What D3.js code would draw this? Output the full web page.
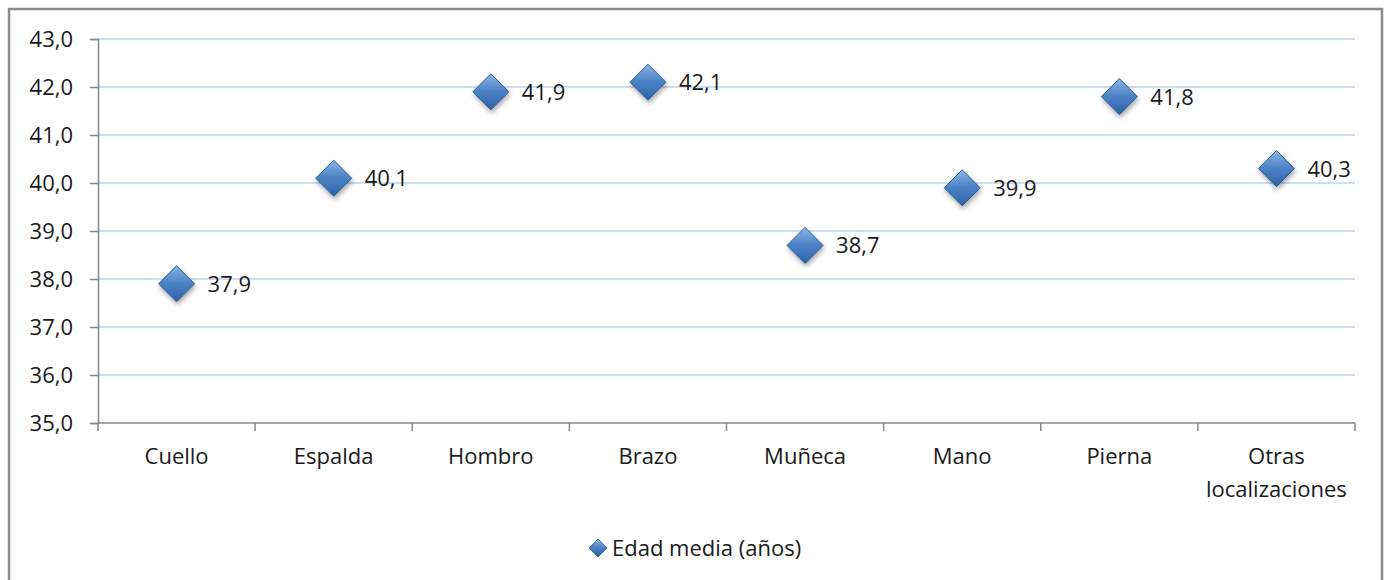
<!DOCTYPE html>
<html>
<head>
<meta charset="utf-8">
<script src="https://cdn.jsdelivr.net/npm/d3@7"></script>
<style>
  body { margin: 0; background: #fff; }
  svg { display: block; font-family: "Open Sans", sans-serif; }
</style>
</head>
<body>
<div id="chart"></div>
<script>
// data
const categories = ['Cuello', 'Espalda', 'Hombro', 'Brazo', 'Muñeca', 'Mano', 'Pierna', 'Otras localizaciones'];
const edadMedia = [37.9, 40.1, 41.9, 42.1, 38.7, 39.9, 41.8, 40.3];
const yTicks = [35, 36, 37, 38, 39, 40, 41, 42, 43];
const seriesName = 'Edad media (años)';

const width = 1386;
const height = 580;
const margin = {top: 39, bottom: 157, left: 98, right: 31};

const es = d3.formatLocale({decimal: ',', thousands: '.', grouping: [3], currency: ['', '€']});
const fmt = es.format('.1f');

const svg = d3.select('#chart')
    .append('svg')
        .attr('width', width)
        .attr('height', height);

// equal-diagonal diamond
const diamond = {
    draw(ctx, size) {
        const r = Math.sqrt(size / 2);
        ctx.moveTo(0, -r);
        ctx.lineTo(r, 0);
        ctx.lineTo(0, r);
        ctx.lineTo(-r, 0);
        ctx.closePath();
    }
};

const defs = svg.append('defs');
const grad = defs.append('linearGradient')
    .attr('id', 'gem')
    .attr('x1', 0).attr('y1', 0).attr('x2', 0).attr('y2', 1);
grad.append('stop').attr('offset', '0%').attr('stop-color', '#8db6e6');
grad.append('stop').attr('offset', '45%').attr('stop-color', '#4f85c8');
grad.append('stop').attr('offset', '100%').attr('stop-color', '#2d62a6');

const shadow = defs.append('filter').attr('id', 'shadow')
    .attr('x', '-50%').attr('y', '-50%').attr('width', '200%').attr('height', '200%');
shadow.append('feDropShadow')
    .attr('dx', 1).attr('dy', 3).attr('stdDeviation', 2.5)
    .attr('flood-color', '#000').attr('flood-opacity', 0.35);

// chart frame
svg.append('rect')
    .attr('x', 9).attr('y', 9)
    .attr('width', 1373).attr('height', 620)
    .attr('fill', 'none')
    .attr('stroke', '#8a8a8a')
    .attr('stroke-width', 2.5);

const x = d3.scaleBand()
    .domain(categories)
    .range([margin.left, width - margin.right]);

const xEdge = d3.scaleLinear()
    .domain([0, categories.length])
    .range([margin.left, width - margin.right]);

const y = d3.scaleLinear()
    .domain([35, 43])
    .range([height - margin.bottom, margin.top]);

// gridlines
svg.append('g')
    .selectAll('line')
    .data(yTicks.slice(1))
    .join('line')
        .attr('x1', margin.left)
        .attr('x2', width - margin.right)
        .attr('y1', d => y(d))
        .attr('y2', d => y(d))
        .attr('stroke', '#9dbbe2')
        .attr('stroke-width', 1.2);

// y axis
function yAxis(g) {
    g.attr('transform', `translate(${margin.left}, 0)`)
        .call(d3.axisLeft(y).tickValues(yTicks).tickFormat(fmt).tickSize(8).tickPadding(17))
        .attr('font-size', '22px')
        .attr('font-family', '"Open Sans", sans-serif')
        .call(g => g.select('.domain').attr('stroke', '#888').attr('stroke-width', 1.5))
        .call(g => g.selectAll('.tick line').attr('stroke', '#888').attr('stroke-width', 1.5))
        .call(g => g.selectAll('.tick text').attr('fill', '#1a1a1a'));
}
svg.append('g').call(yAxis);

// x axis: line + boundary ticks
const xg = svg.append('g');
xg.append('line')
    .attr('x1', margin.left)
    .attr('x2', width - margin.right)
    .attr('y1', y(35))
    .attr('y2', y(35))
    .attr('stroke', '#888')
    .attr('stroke-width', 1.5);
xg.selectAll('.edge')
    .data(d3.range(categories.length + 1))
    .join('line')
        .attr('class', 'edge')
        .attr('x1', d => xEdge(d))
        .attr('x2', d => xEdge(d))
        .attr('y1', y(35))
        .attr('y2', y(35) + 8)
        .attr('stroke', '#888')
        .attr('stroke-width', 1.5);

// category labels (wrapped)
const labels = xg.selectAll('.cat')
    .data(categories)
    .join('text')
        .attr('class', 'cat')
        .attr('x', d => x(d) + x.bandwidth() / 2)
        .attr('y', y(35) + 41)
        .attr('text-anchor', 'middle')
        .attr('font-size', '22px')
        .attr('fill', '#1a1a1a')
        .text(d => d);

labels.each(function(d) {
    const t = d3.select(this);
    if (this.getComputedTextLength() > x.bandwidth() - 10) {
        const words = d.split(' ');
        t.text(null);
        words.forEach((w, i) => {
            t.append('tspan')
                .attr('x', x(d) + x.bandwidth() / 2)
                .attr('dy', i === 0 ? 0 : 33)
                .text(w);
        });
    }
});

// markers
const points = categories.map((c, i) => ({cat: c, value: edadMedia[i]}));

svg.append('g')
    .selectAll('path')
    .data(points)
    .join('path')
        .attr('transform', d => `translate(${x(d.cat) + x.bandwidth() / 2}, ${y(d.value)})`)
        .attr('d', d3.symbol().type(diamond).size(2 * 18 * 18))
        .attr('fill', 'url(#gem)')
        .attr('stroke', '#2b5b96')
        .attr('stroke-width', 1)
        .attr('filter', 'url(#shadow)');

// data labels
svg.append('g')
    .selectAll('text')
    .data(points)
    .join('text')
        .attr('x', d => x(d.cat) + x.bandwidth() / 2 + 31)
        .attr('y', d => y(d.value))
        .attr('dy', '0.36em')
        .attr('font-size', '22px')
        .attr('fill', '#1a1a1a')
        .text(d => fmt(d.value));

// legend
const legend = svg.append('g').attr('transform', `translate(598, 548)`);
legend.append('path')
    .attr('d', d3.symbol().type(diamond).size(2 * 9 * 9))
    .attr('fill', 'url(#gem)')
    .attr('stroke', '#2b5b96')
    .attr('stroke-width', 0.8);
legend.append('text')
    .attr('x', 14)
    .attr('dy', '0.36em')
    .attr('font-size', '22px')
    .attr('fill', '#1a1a1a')
    .text(seriesName);
</script>
</body>
</html>
